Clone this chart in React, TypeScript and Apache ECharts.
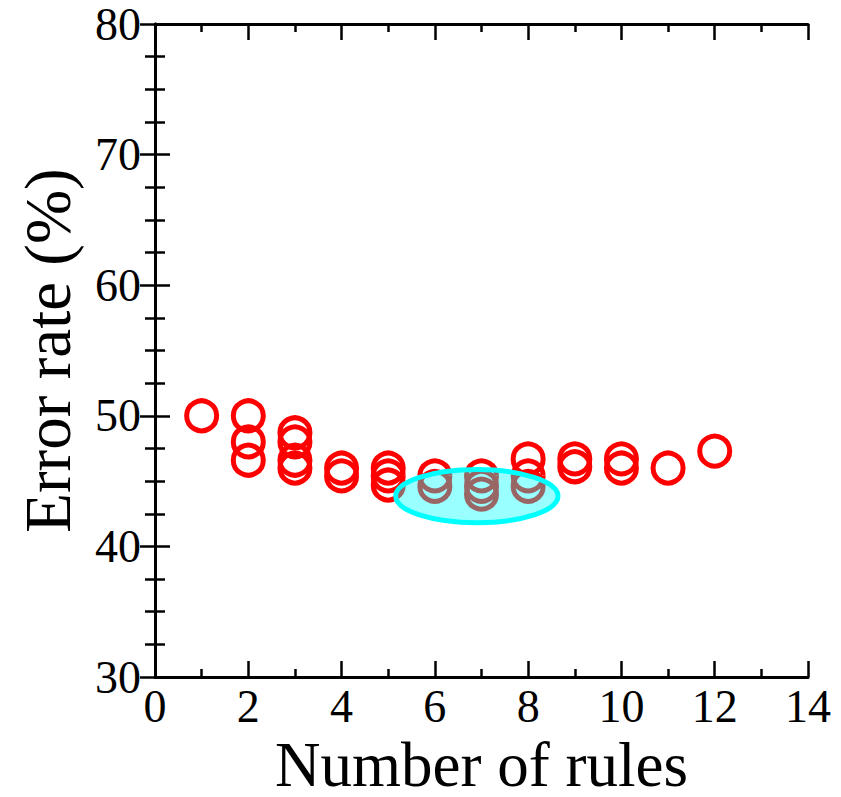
import React, { useEffect, useRef } from "react";
import * as echarts from "echarts";

// Number of rules for each run, with its error rate (%)
const ruleCounts = [1, 2, 2, 2, 3, 3, 3, 3, 4, 4, 5, 5, 5, 6, 6, 7, 7, 7, 8, 8, 8, 9, 9, 10, 10, 11, 12];
const errorRates = [
  50.0, 50.0, 48.0, 46.6, 48.7, 48.0, 46.6, 46.0, 46.0, 45.4, 46.0, 45.4, 44.7, 45.4, 44.6, 45.4, 44.6, 44.0,
  46.7, 45.4, 44.6, 46.7, 46.1, 46.7, 46.0, 46.0, 47.3,
];

// Highlighted region: centre and radii in axis units
const regionCenter = [6.9, 43.85];
const regionRadius = [1.74, 2.03];

const xTicks = [0, 14, 2];
const yTicks = [30, 80, 10];

const FONT = "Liberation Serif";

export default function App() {
  const ref = useRef<HTMLDivElement>(null);

  useEffect(() => {
    document.body.style.margin = "0";
    const chart = echarts.init(ref.current!, undefined, { renderer: "svg" });

    const axisLine = { show: true, lineStyle: { color: "#000", width: 3 } };
    const xAxisBase = {
      type: "value" as const,
      min: xTicks[0],
      max: xTicks[1],
      interval: xTicks[2],
      axisLine,
      axisTick: { show: true, inside: true, length: 16, lineStyle: { color: "#000", width: 2.5 } },
      minorTick: { show: true, splitNumber: 2, length: 8, lineStyle: { color: "#000", width: 2.5 } },
      splitLine: { show: false },
    };
    const yAxisBase = {
      type: "value" as const,
      min: yTicks[0],
      max: yTicks[1],
      interval: yTicks[2],
      axisLine,
      axisTick: { show: true, inside: true, length: 15, lineStyle: { color: "#000", width: 2.5 } },
      minorTick: { show: true, splitNumber: 4, length: 10, lineStyle: { color: "#000", width: 2.5 } },
      splitLine: { show: false },
    };

    chart.setOption({
      animation: false,
      backgroundColor: "#fff",
      grid: { left: 155, right: 33, top: 24, bottom: 120, outerBoundsMode: "none" },
      xAxis: [
        {
          ...xAxisBase,
          position: "bottom",
          name: "Number of rules",
          nameLocation: "middle",
          nameGap: 50,
          nameTextStyle: { fontFamily: FONT, fontSize: 63, lineHeight: 63, color: "#000" },
          axisLabel: { fontFamily: FONT, fontSize: 46, color: "#000", margin: 6 },
        },
        { ...xAxisBase, position: "top", axisLabel: { show: false } },
      ],
      yAxis: [
        {
          ...yAxisBase,
          position: "left",
          name: "Error rate (%)",
          nameLocation: "middle",
          nameGap: 75,
          nameTextStyle: { fontFamily: FONT, fontSize: 65, color: "#000" },
          axisLabel: { fontFamily: FONT, fontSize: 46, color: "#000", margin: 14 },
        },
        { ...yAxisBase, position: "right", axisLabel: { show: false } },
      ],
      series: [
        {
          type: "scatter",
          data: ruleCounts.map((n, i) => [n, errorRates[i]]),
          symbol: "circle",
          symbolSize: 30,
          itemStyle: { color: "rgba(0,0,0,0)", borderColor: "#ff0000", borderWidth: 5, opacity: 1 },
          z: 2,
        },
        {
          type: "custom",
          data: [[regionCenter[0], regionCenter[1]]],
          z: 3,
          renderItem: (params: any, api: any) => {
            const c = api.coord([api.value(0), api.value(1)]);
            const s = api.size([regionRadius[0], regionRadius[1]]);
            return {
              type: "ellipse",
              shape: { cx: c[0], cy: c[1], rx: s[0], ry: s[1] },
              style: { fill: "rgba(0,255,255,0.4)", stroke: "#00ffff", lineWidth: 5 },
            };
          },
        },
      ],
    });

    return () => chart.dispose();
  }, []);

  return <div ref={ref} style={{ width: 841, height: 797 }} />;
}
